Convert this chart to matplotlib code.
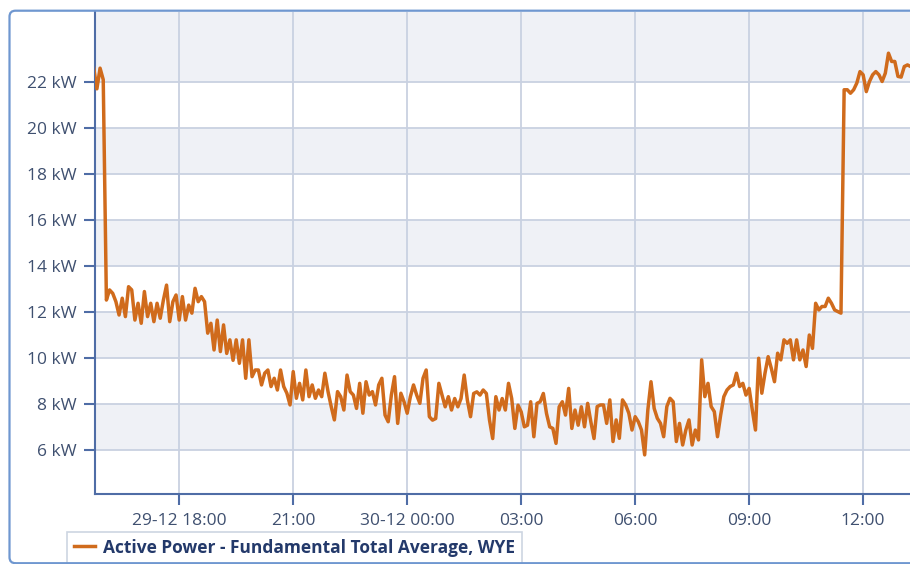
import numpy as np
import pandas as pd
import matplotlib.pyplot as plt
from matplotlib.patches import FancyBboxPatch
from matplotlib.transforms import IdentityTransform

# Messwerte (kW), 5-Minuten-Raster ab 29-12 15:45
start = '2023-12-29 15:45'
p_start = [22.6, 21.7, 22.6, 22.1]
p_evening = [12.52, 12.96, 12.81, 12.45, 11.87, 12.6, 11.8, 13.1, 12.96, 11.65,
             12.38, 11.51, 12.89, 11.8, 12.38, 11.58, 12.38, 11.73, 12.52, 13.17,
             11.58, 12.45, 12.74, 11.65, 12.67, 11.65, 12.3, 11.95, 13.03, 12.45,
             12.67, 12.45, 11.08, 11.51, 10.35, 11.65, 10.28, 11.44, 10.2, 10.79,
             9.9, 10.79, 9.77, 10.79, 9.12, 10.79, 9.19, 9.48, 9.48, 8.83, 9.34]
p_late = [9.48, 8.76, 9.12, 8.61, 9.48, 8.76, 8.47, 7.96, 9.41, 8.25,
          8.9, 8.18, 9.48, 8.32, 8.83, 8.25, 8.61, 8.32, 9.34, 8.54,
          7.89, 7.31, 8.54, 8.32, 7.74, 9.26, 8.54, 8.39, 7.81, 8.9,
          7.6, 8.97, 8.39, 8.54, 7.96, 8.83, 9.12, 7.52, 7.23, 8.39,
          9.19, 7.16, 8.47, 8.1, 7.6, 8.32, 8.83, 8.39, 8.03, 9.12,
          9.48, 7.45]
p_night = [7.3, 7.37, 8.9, 8.39, 7.88, 8.32, 7.74, 8.24, 7.88, 8.24,
           9.26, 8.17, 7.45, 8.46, 8.53, 8.39, 8.61, 8.46, 7.3, 6.5,
           8.32, 7.74, 8.24, 7.74, 8.9, 8.24, 6.94, 7.95, 7.66, 7.01,
           7.08, 8.1, 6.58, 8.03, 8.1, 8.46, 7.59, 7.01, 6.94, 6.29,
           7.88, 8.1, 7.52, 8.68, 6.94, 7.74, 7.08, 7.88, 7.01, 8.03,
           7.23, 6.5]
p_morning = [7.89, 7.96, 7.96, 7.16, 8.18, 6.37, 7.31, 6.51, 8.18, 7.96,
             7.6, 6.87, 7.45, 7.23, 6.87, 5.79, 7.74, 8.97, 7.81, 7.38,
             7.16, 6.58, 7.89, 8.25, 8.1, 6.37, 7.16, 6.22, 6.87, 7.31,
             6.22, 6.87, 6.44, 9.92, 8.32, 8.9, 7.89, 7.67, 6.58, 7.52,
             8.32, 8.61, 8.76, 8.83, 9.34, 8.76, 8.9, 8.39, 8.68, 7.74,
             6.87, 9.99]
p_day = [8.47, 9.34, 10.06, 9.55, 8.97, 10.21, 9.92, 10.79, 10.64, 10.79,
         9.92, 10.79, 9.92, 10.35, 9.63, 11.0, 10.42, 12.38, 12.09, 12.24,
         12.24, 12.6, 12.38, 12.09, 12.02, 11.95, 21.66, 21.66, 21.51, 21.66,
         21.95, 22.45, 22.31, 21.58, 22.02, 22.31, 22.45, 22.31, 22.02, 22.38,
         23.25, 22.89, 22.89, 22.24, 22.21, 22.67, 22.74, 22.67]

power = np.array(p_start + p_evening + p_late + p_night + p_morning + p_day)
zeit = pd.date_range(start, periods=len(power), freq='5min')

x_ticks = pd.to_datetime(['2023-12-29 18:00', '2023-12-29 21:00', '2023-12-30 00:00',
                          '2023-12-30 03:00', '2023-12-30 06:00', '2023-12-30 09:00',
                          '2023-12-30 12:00'])
x_labels = ['29-12 18:00', '21:00', '30-12 00:00', '03:00', '06:00', '09:00', '12:00']
y_ticks = [6, 8, 10, 12, 14, 16, 18, 20, 22]
y_labels = [f'{v} kW' for v in y_ticks]
serie = 'Active Power - Fundamental Total Average, WYE'

# Farben
c_line = '#d06b1c'
c_band = '#eff1f6'
c_grid = '#c9d1e1'
c_axis = '#4f6da6'
c_frame = '#6f97d0'
c_text = '#3f5070'
c_legend = '#23396a'

plt.rcParams['font.family'] = ['Open Sans', 'DejaVu Sans']

fig = plt.figure(figsize=(9.1, 5.64), dpi=100)
ax = fig.add_axes([95/910, 70/564, 815/910, 482/564])

y_lo, y_hi = 4.09, 25.04
ax.set_ylim(y_lo, y_hi)
ax.set_xlim(pd.Timestamp('2023-12-29 15:47'), pd.Timestamp('2023-12-30 13:14'))

# abwechselnde Hintergrundbaender
for i in range(0, len(y_ticks), 2):
    hi = y_ticks[i + 1] if i + 1 < len(y_ticks) else y_hi
    ax.axhspan(y_ticks[i], hi, color=c_band, zorder=0, lw=0)

ax.plot(zeit, power, color=c_line, lw=2.5, zorder=3, label=serie,
        solid_joinstyle='round')

ax.set_xticks(x_ticks)
ax.set_xticklabels(x_labels)
ax.set_yticks(y_ticks)
ax.set_yticklabels(y_labels)
ax.grid(True, color=c_grid, lw=1.3, zorder=1)
ax.set_axisbelow(True)

for s in ['top', 'right']:
    ax.spines[s].set_visible(False)
for s in ['left', 'bottom']:
    ax.spines[s].set_color(c_axis)
    ax.spines[s].set_linewidth(1.5)

ax.tick_params(axis='both', length=8, width=1.5, color=c_axis,
               labelcolor=c_text, labelsize=12.5)
ax.tick_params(axis='y', pad=5)
ax.tick_params(axis='x', pad=6)

# Legende unten
leg = ax.legend(loc='lower left', bbox_to_anchor=(67/910, 0.5/564),
                bbox_transform=fig.transFigure, fancybox=False,
                edgecolor='#cdd5e2', framealpha=1, handlelength=1.2,
                handletextpad=0.5, borderpad=0.4, borderaxespad=0,
                prop={'weight': 'bold', 'size': 12.5})
leg.get_frame().set_linewidth(1.2)
for t in leg.get_texts():
    t.set_color(c_legend)

# aeusserer Rahmen
fig.patches.append(FancyBboxPatch((9.5, 0.8), 1000, 552.5,
                                  boxstyle='round,pad=0,rounding_size=6',
                                  transform=IdentityTransform(), fill=False,
                                  ec=c_frame, lw=1.6, zorder=10))

fig.savefig('out.png', dpi=100)
